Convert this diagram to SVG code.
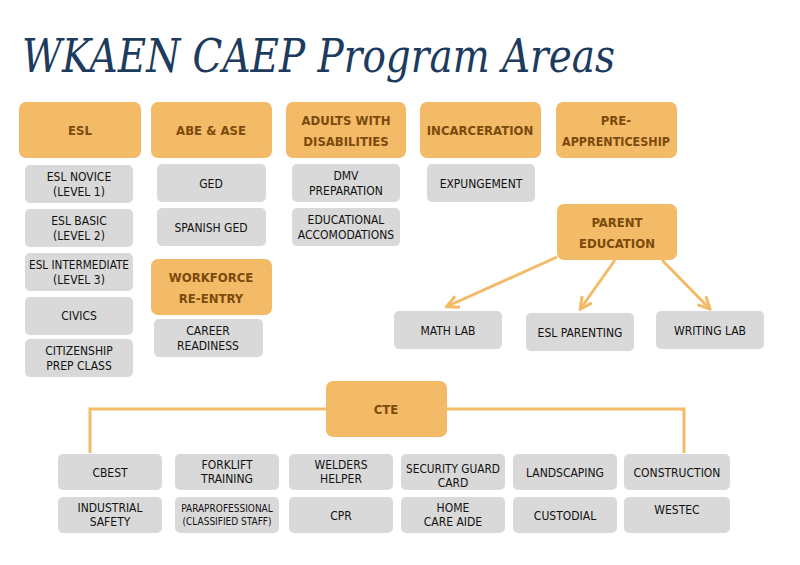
<svg xmlns="http://www.w3.org/2000/svg" width="800" height="565" viewBox="0 0 800 565">
<style>
.h{fill:#f3bb67;}
.g{fill:#d9d9d9;}
text{font-family:"Liberation Sans Narrow","DejaVu Sans Condensed","Roboto Condensed","Liberation Sans",sans-serif;text-anchor:middle;font-size:12px;}
.ht{fill:#7b4a0c;font-weight:bold;font-size:13px;}
.gt{fill:#111;}
.c{stroke:#f3bb67;stroke-width:3;fill:none;}
</style>
<defs><marker id="a" viewBox="0 0 10 10" refX="8" refY="5" markerWidth="5" markerHeight="5" orient="auto"><path d="M1,1 L9,5 L1,9" fill="none" stroke="#f3bb67" stroke-width="2"/></marker></defs>
<rect width="800" height="565" fill="#fff"/>
<text x="22" y="72" textLength="593" lengthAdjust="spacingAndGlyphs" style="text-anchor:start;font-family:'DejaVu Serif',serif;font-style:italic;font-size:46px;fill:#1d3b5e;">WKAEN CAEP Program Areas</text>
<g id="connectors">
<path class="c" d="M90,453 V409 H684 V453"/>
<path class="c" d="M557,257 L448,306" marker-end="url(#a)"/>
<path class="c" d="M615,260 L581,308" marker-end="url(#a)"/>
<path class="c" d="M662,260 L709,308" marker-end="url(#a)"/>
</g>
<g id="esl"><rect class="h" x="19" y="102" width="122" height="56" rx="7"/><text class="ht" x="80" y="135">ESL</text></g>
<g id="abe"><rect class="h" x="151" y="102" width="121" height="56" rx="7"/><text class="ht" x="211" y="135">ABE &amp; ASE</text></g>
<g id="awd"><rect class="h" x="286" y="102" width="120" height="56" rx="7"/><text class="ht" x="346" y="125">ADULTS WITH</text><text class="ht" x="346" y="146">DISABILITIES</text></g>
<g id="inc"><rect class="h" x="420" y="102" width="121" height="56" rx="7"/><text class="ht" x="480" y="135">INCARCERATION</text></g>
<g id="pre"><rect class="h" x="556" y="102" width="121" height="56" rx="7"/><text class="ht" x="616" y="125">PRE-</text><text class="ht" x="616" y="146" textLength="108" lengthAdjust="spacingAndGlyphs">APPRENTICESHIP</text></g>
<g id="wf"><rect class="h" x="151" y="259" width="121" height="56" rx="7"/><text class="ht" x="211" y="282">WORKFORCE</text><text class="ht" x="211" y="303">RE-ENTRY</text></g>
<g id="pe"><rect class="h" x="557" y="204" width="120" height="56" rx="7"/><text class="ht" x="617" y="227">PARENT</text><text class="ht" x="617" y="248">EDUCATION</text></g>
<g id="cte"><rect class="h" x="326" y="381" width="121" height="56" rx="7"/><text class="ht" x="386" y="414">CTE</text></g>

<g id="esl1"><rect class="g" x="25" y="165" width="108" height="38" rx="5"/><text class="gt" x="79" y="181">ESL NOVICE</text><text class="gt" x="79" y="196">(LEVEL 1)</text></g>
<g id="esl2"><rect class="g" x="25" y="209" width="108" height="38" rx="5"/><text class="gt" x="79" y="225">ESL BASIC</text><text class="gt" x="79" y="240">(LEVEL 2)</text></g>
<g id="esl3"><rect class="g" x="25" y="253" width="108" height="38" rx="5"/><text class="gt" x="79" y="269" textLength="100" lengthAdjust="spacingAndGlyphs">ESL INTERMEDIATE</text><text class="gt" x="79" y="284">(LEVEL 3)</text></g>
<g id="civ"><rect class="g" x="25" y="297" width="108" height="38" rx="5"/><text class="gt" x="79" y="320">CIVICS</text></g>
<g id="cit"><rect class="g" x="25" y="339" width="108" height="38" rx="5"/><text class="gt" x="79" y="355">CITIZENSHIP</text><text class="gt" x="79" y="370">PREP CLASS</text></g>
<g id="ged"><rect class="g" x="157" y="164" width="109" height="38" rx="5"/><text class="gt" x="211" y="188">GED</text></g>
<g id="sged"><rect class="g" x="157" y="208" width="109" height="38" rx="5"/><text class="gt" x="211" y="232">SPANISH GED</text></g>
<g id="car"><rect class="g" x="154" y="319" width="109" height="38" rx="5"/><text class="gt" x="208" y="335">CAREER</text><text class="gt" x="208" y="350">READINESS</text></g>
<g id="dmv"><rect class="g" x="292" y="164" width="108" height="38" rx="5"/><text class="gt" x="346" y="180">DMV</text><text class="gt" x="346" y="195">PREPARATION</text></g>
<g id="edu"><rect class="g" x="292" y="208" width="108" height="38" rx="5"/><text class="gt" x="346" y="224">EDUCATIONAL</text><text class="gt" x="346" y="239">ACCOMODATIONS</text></g>
<g id="exp"><rect class="g" x="427" y="164" width="108" height="38" rx="5"/><text class="gt" x="481" y="188">EXPUNGEMENT</text></g>
<g id="math"><rect class="g" x="394" y="311" width="108" height="38" rx="5"/><text class="gt" x="448" y="335">MATH LAB</text></g>
<g id="eslp"><rect class="g" x="526" y="313" width="108" height="38" rx="5"/><text class="gt" x="580" y="337">ESL PARENTING</text></g>
<g id="wl"><rect class="g" x="656" y="311" width="108" height="38" rx="5"/><text class="gt" x="710" y="335">WRITING LAB</text></g>

<g id="cbest"><rect class="g" x="58" y="454" width="104" height="36" rx="5"/><text class="gt" x="110" y="477">CBEST</text></g>
<g id="fork"><rect class="g" x="175" y="454" width="104" height="36" rx="5"/><text class="gt" x="227" y="469">FORKLIFT</text><text class="gt" x="227" y="483">TRAINING</text></g>
<g id="weld"><rect class="g" x="289" y="454" width="104" height="36" rx="5"/><text class="gt" x="341" y="469">WELDERS</text><text class="gt" x="341" y="483">HELPER</text></g>
<g id="sec"><rect class="g" x="401" y="454" width="104" height="36" rx="5"/><text class="gt" x="453" y="473" textLength="94" lengthAdjust="spacingAndGlyphs">SECURITY GUARD</text><text class="gt" x="453" y="487">CARD</text></g>
<g id="land"><rect class="g" x="513" y="454" width="104" height="36" rx="5"/><text class="gt" x="565" y="477">LANDSCAPING</text></g>
<g id="cons"><rect class="g" x="624" y="454" width="106" height="36" rx="5"/><text class="gt" x="677" y="477">CONSTRUCTION</text></g>
<g id="ind"><rect class="g" x="58" y="497" width="104" height="36" rx="5"/><text class="gt" x="110" y="512">INDUSTRIAL</text><text class="gt" x="110" y="526">SAFETY</text></g>
<g id="para"><rect class="g" x="175" y="497" width="104" height="36" rx="5"/><text class="gt" x="227" y="512" style="font-size:10px">PARAPROFESSIONAL</text><text class="gt" x="227" y="525" style="font-size:10px">(CLASSIFIED STAFF)</text></g>
<g id="cpr"><rect class="g" x="289" y="497" width="104" height="36" rx="5"/><text class="gt" x="341" y="520">CPR</text></g>
<g id="home"><rect class="g" x="401" y="497" width="104" height="36" rx="5"/><text class="gt" x="453" y="512">HOME</text><text class="gt" x="453" y="526">CARE AIDE</text></g>
<g id="cust"><rect class="g" x="513" y="497" width="104" height="36" rx="5"/><text class="gt" x="565" y="520">CUSTODIAL</text></g>
<g id="west"><rect class="g" x="624" y="497" width="106" height="36" rx="5"/><text class="gt" x="677" y="514">WESTEC</text></g>
</svg>
